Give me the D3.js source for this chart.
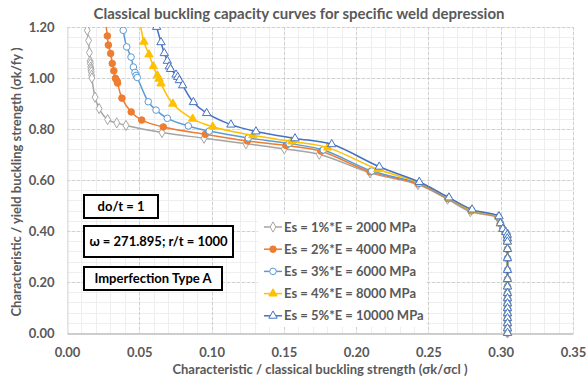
<!DOCTYPE html>
<html>
<head>
<meta charset="utf-8">
<script src="https://cdn.jsdelivr.net/npm/d3@7"></script>
<style>
  html, body { margin: 0; padding: 0; background: #fff; }
  svg { display: block; }
  text { font-family: Lato, "Open Sans", sans-serif; font-weight: bold; }
</style>
</head>
<body>
<svg id="chart" width="586" height="383"></svg>
<script>
// Buckling capacity curves, one array of [σk/σcl, σk/fy] pairs per Es value
const es1 = [[0.0140,1.187],[0.0149,1.147],[0.0155,1.100],[0.0160,1.066],[0.0162,1.056],[0.0164,1.043],[0.0166,1.034],[0.0168,1.024],[0.0170,1.011],[0.0172,1.000],[0.0194,0.925],[0.0222,0.880],[0.0281,0.837],[0.0344,0.824],[0.0408,0.814],[0.0657,0.786],[0.0948,0.764],[0.1238,0.742],[0.1503,0.722],[0.1745,0.701],[0.2096,0.628],[0.2428,0.582],[0.2632,0.525],[0.2790,0.476],[0.2980,0.452]];
const es2 = [[0.0258,1.260],[0.0279,1.165],[0.0286,1.129],[0.0302,1.096],[0.0313,1.057],[0.0324,1.028],[0.0335,0.999],[0.0346,0.989],[0.0350,0.980],[0.0380,0.921],[0.0444,0.867],[0.0517,0.835],[0.0666,0.808],[0.0957,0.779],[0.1247,0.753],[0.1515,0.735],[0.1757,0.713],[0.2096,0.632],[0.2428,0.585],[0.2635,0.527],[0.2796,0.479],[0.2983,0.454]];
const es3 = [[0.0378,1.250],[0.0389,1.187],[0.0413,1.122],[0.0443,1.082],[0.0459,1.043],[0.0470,1.022],[0.0478,1.010],[0.0486,1.002],[0.0562,0.907],[0.0616,0.874],[0.0694,0.842],[0.0839,0.812],[0.0984,0.792],[0.1254,0.765],[0.1536,0.743],[0.1773,0.718],[0.2108,0.635],[0.2435,0.587],[0.2637,0.528],[0.2799,0.481],[0.2985,0.455]];
const es4 = [[0.0490,1.270],[0.0532,1.142],[0.0567,1.092],[0.0597,1.046],[0.0625,1.010],[0.0637,0.997],[0.0650,0.978],[0.0732,0.899],[0.0869,0.840],[0.1008,0.809],[0.1285,0.775],[0.1554,0.751],[0.1803,0.727],[0.2149,0.642],[0.2435,0.590],[0.2640,0.530],[0.2800,0.482],[0.2986,0.456]];
const es5 = [[0.0620,1.200],[0.0650,1.140],[0.0673,1.097],[0.0694,1.067],[0.0707,1.045],[0.0716,1.035],[0.0754,1.013],[0.0766,1.004],[0.0777,0.991],[0.0800,0.971],[0.0874,0.905],[0.0966,0.862],[0.1134,0.817],[0.1307,0.790],[0.1577,0.763],[0.1831,0.740],[0.2160,0.652],[0.2437,0.592],[0.2642,0.531],[0.2802,0.484],[0.2988,0.457]];
// Common collapse branch shared by every curve below the knee
const collapseTail = [[0.2998,0.430],[0.3015,0.408],[0.3035,0.395],[0.3045,0.385],[0.3046,0.371],[0.3046,0.358],[0.3047,0.329],[0.3047,0.293],[0.3047,0.247],[0.3047,0.211],[0.3047,0.182],[0.3047,0.156],[0.3047,0.136],[0.3047,0.116],[0.3047,0.097],[0.3047,0.077],[0.3047,0.058],[0.3047,0.038],[0.3047,0.018],[0.3047,0.000]];

const seriesNames = ["Es = 1%*E = 2000 MPa","Es = 2%*E = 4000 MPa","Es = 3%*E = 6000 MPa","Es = 4%*E = 8000 MPa","Es = 5%*E = 10000 MPa"];
const seriesColors = ["#a5a5a5","#ed7d31","#5b9bd5","#ffc000","#4472c4"];
const markerShapes = ["diamond","circle","circle","triangle","triangle"];
const markerFilled = [false,true,false,true,false];
const xTicks = [0,0.05,0.10,0.15,0.20,0.25,0.30,0.35];
const yTicks = [0,0.2,0.4,0.6,0.8,1.0,1.2];
const notes = ["do/t = 1","ω =  271.895; r/t =  1000","Imperfection Type A"];

const titleText = "Classical buckling capacity curves for specific weld depression";
const xTitle = "Characteristic / classical buckling strength  (σk/σcl )";
const yTitle = "Characteristic / yield buckling strength  (σk/fy )";

const svg = d3.select("#chart");
const m = {left: 67, right: 573, top: 27, bottom: 333};
const x = d3.scaleLinear().domain([0, 0.35]).range([m.left, m.right]);
const y = d3.scaleLinear().domain([0, 1.2]).range([m.bottom, m.top]);
const textGray = "#595959";

// minor grid
const minorX = d3.range(0, 0.3501, 0.01);
const minorY = d3.range(0, 1.2001, 0.04);
const grid = svg.append("g");
grid.selectAll(".mx").data(minorX).join("line")
  .attr("x1", d => Math.round(x(d)) + 0.5).attr("x2", d => Math.round(x(d)) + 0.5)
  .attr("y1", m.top).attr("y2", m.bottom).attr("stroke", "#eeeeee").attr("stroke-width", 1);
grid.selectAll(".my").data(minorY).join("line")
  .attr("y1", d => Math.round(y(d)) + 0.5).attr("y2", d => Math.round(y(d)) + 0.5)
  .attr("x1", m.left).attr("x2", m.right).attr("stroke", "#eeeeee").attr("stroke-width", 1);
// major dashed grid
grid.selectAll(".Mx").data(xTicks.slice(1)).join("line")
  .attr("x1", d => Math.round(x(d)) + 0.5).attr("x2", d => Math.round(x(d)) + 0.5)
  .attr("y1", m.top).attr("y2", m.bottom).attr("stroke", "#d0d0d0").attr("stroke-dasharray", "3,2");
grid.selectAll(".My").data(yTicks.slice(1)).join("line")
  .attr("y1", d => Math.round(y(d)) + 0.5).attr("y2", d => Math.round(y(d)) + 0.5)
  .attr("x1", m.left).attr("x2", m.right).attr("stroke", "#d0d0d0").attr("stroke-dasharray", "3,2");

// axes
const xAxis = d3.axisBottom(x).tickValues(xTicks).tickFormat(d3.format(".2f")).tickSize(0).tickPadding(14);
const yAxis = d3.axisLeft(y).tickValues(yTicks).tickFormat(d3.format(".2f")).tickSize(0).tickPadding(13);
const gx = svg.append("g").attr("transform", `translate(0,${m.bottom + 0.5})`).call(xAxis);
const gy = svg.append("g").attr("transform", `translate(${m.left + 0.5},0)`).call(yAxis);
gx.select(".domain").attr("stroke", "#bfbfbf").attr("stroke-width", 1.5);
gy.select(".domain").attr("stroke", "#d9d9d9");
[gx, gy].forEach(g => g.selectAll("text").attr("fill", textGray).style("font-size", "13px").style("font-family", "Lato, sans-serif").style("font-weight", "bold"));

// clip for curves
svg.append("clipPath").attr("id", "plotClip").append("rect")
  .attr("x", m.left).attr("y", m.top).attr("width", m.right - m.left).attr("height", m.bottom - m.top + 6);

const seriesData = [es1, es2, es3, es4, es5].map(s => s.concat(collapseTail));
const line = d3.line().x(d => x(d[0])).y(d => y(d[1])).curve(d3.curveCatmullRom.alpha(0.5));

const markerSize = shape => shape === "triangle" ? 30 : shape === "circle" ? 34 : 30;
const symbolFor = shape => d3.symbol()
  .type(shape === "diamond" ? d3.symbolDiamond : shape === "circle" ? d3.symbolCircle : d3.symbolTriangle)
  .size(markerSize(shape));

const plot = svg.append("g").attr("clip-path", "url(#plotClip)");
seriesData.forEach((data, i) => {
  const g = plot.append("g");
  g.append("path").datum(data).attr("d", line).attr("fill", "none")
    .attr("stroke", seriesColors[i]).attr("stroke-width", 1.5);
  g.selectAll("path.mk").data(data.filter(d => d[1] <= 1.2)).join("path").attr("class", "mk")
    .attr("transform", d => `translate(${x(d[0])},${y(d[1])})`)
    .attr("d", symbolFor(markerShapes[i]))
    .attr("fill", markerFilled[i] ? seriesColors[i] : "#ffffff")
    .attr("stroke", seriesColors[i]).attr("stroke-width", 1);
});

// legend
const lg = svg.append("g");
lg.append("rect").attr("x", 258).attr("y", 214).attr("width", 168).attr("height", 113).attr("fill", "#ffffff");
seriesNames.forEach((name, i) => {
  const cy = 227 + i * 22.2;
  lg.append("line").attr("x1", 264).attr("x2", 282).attr("y1", cy).attr("y2", cy)
    .attr("stroke", seriesColors[i]).attr("stroke-width", 1.5);
  lg.append("path").attr("transform", `translate(273,${cy})`)
    .attr("d", symbolFor(markerShapes[i]))
    .attr("fill", markerFilled[i] ? seriesColors[i] : "#ffffff")
    .attr("stroke", seriesColors[i]).attr("stroke-width", 1);
  lg.append("text").attr("x", 284).attr("y", cy).attr("dy", "0.35em")
    .attr("fill", textGray).style("font-size", "13px").text(name);
});

// annotation boxes
const boxes = [
  {x: 84, y: 195, w: 74, h: 23},
  {x: 84, y: 226, w: 149, h: 31},
  {x: 84, y: 267, w: 138, h: 23}
];
boxes.forEach((b, i) => {
  svg.append("rect").attr("x", b.x).attr("y", b.y).attr("width", b.w).attr("height", b.h)
    .attr("fill", "#ffffff").attr("stroke", "#000000").attr("stroke-width", 2);
  svg.append("text").attr("x", b.x + b.w / 2).attr("y", b.y + b.h / 2).attr("dy", "0.35em")
    .attr("text-anchor", "middle").attr("fill", "#000000").style("font-size", "13px").text(notes[i]);
});

// titles
svg.append("text").attr("x", 299).attr("y", 19).attr("text-anchor", "middle")
  .attr("fill", textGray).style("font-size", "15px").text(titleText);
svg.append("text").attr("x", 320).attr("y", 374).attr("text-anchor", "middle")
  .attr("fill", textGray).style("font-size", "13px").text(xTitle);
svg.append("text").attr("transform", "translate(21,182) rotate(-90)").attr("text-anchor", "middle")
  .attr("fill", textGray).style("font-size", "13px").text(yTitle);
</script>
</body>
</html>
